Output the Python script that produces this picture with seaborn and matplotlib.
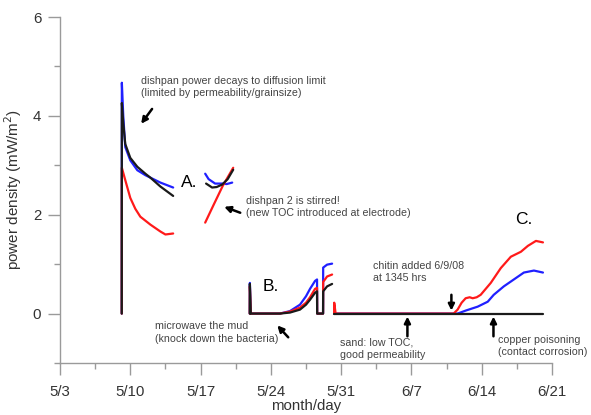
import numpy as np
import pandas as pd
import matplotlib
matplotlib.use("Agg")
import matplotlib.pyplot as plt
import seaborn as sns
from matplotlib.ticker import MultipleLocator

# ---- data (x = days since 5/3) ----
tick_days = [0, 7, 14, 21, 28, 35, 42, 49]
tick_labels = ["5/3", "5/10", "5/17", "5/24", "5/31", "6/7", "6/14", "6/21"]

# segment A1 (dishpan 1)
a1_blue_x = [6.15, 6.16, 6.3, 6.5, 7.0, 7.7, 8.5, 9.0, 10.0, 11.27]
a1_blue_y = [0, 4.67, 4.0, 3.37, 3.1, 2.9, 2.8, 2.75, 2.65, 2.55]
a1_black_x = [6.15, 6.16, 6.3, 6.5, 7.0, 7.7, 8.5, 9.0, 10.0, 11.27]
a1_black_y = [0, 4.26, 3.85, 3.43, 3.15, 2.97, 2.83, 2.75, 2.57, 2.38]
a1_red_x = [6.15, 6.16, 6.5, 7.0, 7.5, 8.0, 9.0, 10.0, 10.5, 11.27]
a1_red_y = [0, 2.95, 2.7, 2.34, 2.12, 1.96, 1.8, 1.66, 1.6, 1.62]

# segment A2 (dishpan 2 stirred)
a2_blue_x = [14.46, 14.8, 15.45, 16.15, 16.6, 17.15]
a2_blue_y = [2.83, 2.72, 2.63, 2.63, 2.62, 2.65]
a2_black_x = [14.55, 15.15, 15.6, 16.15, 16.7, 17.25]
a2_black_y = [2.63, 2.55, 2.56, 2.61, 2.72, 2.91]
a2_red_x = [14.46, 15.3, 16.2, 17.25]
a2_red_y = [1.84, 2.2, 2.58, 2.95]

# segment B (microwaved mud)
b_x = [18.9, 18.91, 19.0, 21.9, 22.9, 23.9, 24.5, 24.9, 25.4, 25.6, 25.61, 26.2, 26.21, 26.6, 27.1]
b_blue_y = [0, 0.62, 0, 0, 0.05, 0.18, 0.35, 0.5, 0.66, 0.69, 0, 0, 0.93, 0.99, 1.01]
b_red_y = [0, 0.55, 0, 0, 0.04, 0.12, 0.22, 0.33, 0.5, 0.52, 0, 0, 0.64, 0.75, 0.79]
b_black_y = [0, 0.6, 0, 0, 0.02, 0.08, 0.18, 0.28, 0.42, 0.45, 0, 0, 0.45, 0.55, 0.6]

# segment C (sand + chitin)
c_red_x = [27.3, 27.31, 27.45, 39.2, 39.6, 40.0, 40.4, 40.8, 41.1, 41.5, 41.9, 42.9, 43.9, 44.9, 45.9, 46.6, 47.4, 48.1]
c_red_y = [0, 0.22, 0, 0, 0.08, 0.22, 0.31, 0.33, 0.31, 0.33, 0.38, 0.62, 0.92, 1.15, 1.25, 1.37, 1.47, 1.44]
c_blue_x = [27.3, 39.6, 40.4, 41.6, 42.6, 43.2, 44.2, 45.2, 46.2, 47.2, 48.1]
c_blue_y = [0, 0, 0.06, 0.14, 0.24, 0.38, 0.55, 0.69, 0.83, 0.87, 0.83]
c_black_x = [27.3, 48.1]
c_black_y = [0, 0]

rows = []
def add(series, seg, xs, ys):
    for x, y in zip(xs, ys):
        rows.append({"day": x, "pd": y, "series": series, "seg": seg})

add("blue", "A1", a1_blue_x, a1_blue_y)
add("red", "A1", a1_red_x, a1_red_y)
add("black", "A1", a1_black_x, a1_black_y)
add("blue", "A2", a2_blue_x, a2_blue_y)
add("red", "A2", a2_red_x, a2_red_y)
add("black", "A2", a2_black_x, a2_black_y)
add("blue", "B", b_x, b_blue_y)
add("red", "B", b_x, b_red_y)
add("black", "B", b_x, b_black_y)
add("blue", "C", c_blue_x, c_blue_y)
add("red", "C", c_red_x, c_red_y)
add("black", "C", c_black_x, c_black_y)
df = pd.DataFrame(rows)

sns.set_theme(style="ticks")
plt.rcParams["font.family"] = ["Liberation Sans", "DejaVu Sans"]

fig = plt.figure(figsize=(5.91, 4.15), dpi=100)
ax = fig.add_axes([60 / 591, 1 - 363 / 415, (552 - 60) / 591, (363 - 17) / 415])

palette = {"blue": "#2020ff", "red": "#ff1a1a", "black": "#1a1a1a"}
sns.lineplot(data=df, x="day", y="pd", hue="series", units="seg", estimator=None,
             sort=False, palette=palette, hue_order=["blue", "red", "black"],
             linewidth=1.6, legend=False, ax=ax)

ax.set_xlim(0, 49)
ax.set_ylim(-1, 6)
ax.set_xticks(tick_days)
ax.set_xticklabels(tick_labels)
ax.xaxis.set_minor_locator(MultipleLocator(3.5))
ax.set_yticks([0, 2, 4, 6])
ax.yaxis.set_minor_locator(MultipleLocator(1))
for s in ["top", "right"]:
    ax.spines[s].set_visible(False)
for s in ["left", "bottom"]:
    ax.spines[s].set_color("#9a9a9a")
    ax.spines[s].set_linewidth(1.0)
ax.spines["left"].set_bounds(-1, 6)
ax.tick_params(axis="both", which="major", length=8.5, width=1, color="#9a9a9a",
               labelsize=10.8, labelcolor="#333333")
ax.tick_params(axis="both", which="minor", length=4, width=1, color="#9a9a9a")
ax.tick_params(axis="x", which="major", pad=7)
ax.tick_params(axis="y", which="major", pad=5)
ax.set_xlabel("month/day", fontsize=10.8, color="#333333", labelpad=0)
ax.set_ylabel("power density (mW/m$^2$)", fontsize=11, color="#333333", labelpad=6)

tcol = "#444444"
fs = 7.7
ax.text(8.08, 4.58, "dishpan power decays to diffusion limit\n(limited by permeability/grainsize)",
        fontsize=fs, color=tcol, ha="left", va="center", linespacing=1.3)
ax.text(18.54, 2.16, "dishpan 2 is stirred!\n(new TOC introduced at electrode)",
        fontsize=fs, color=tcol, ha="left", va="center", linespacing=1.3)
ax.text(9.47, -0.38, "microwave the mud\n(knock down the bacteria)",
        fontsize=fs, color=tcol, ha="left", va="center", linespacing=1.3)
ax.text(27.9, -0.72, "sand: low TOC,\ngood permeability",
        fontsize=fs, color=tcol, ha="left", va="center", linespacing=1.3)
ax.text(31.2, 0.84, "chitin added 6/9/08\nat 1345 hrs",
        fontsize=fs, color=tcol, ha="left", va="center", linespacing=1.3)
ax.text(43.67, -0.66, "copper poisoning\n(contact corrosion)",
        fontsize=fs, color=tcol, ha="left", va="center", linespacing=1.3)

big = 12.5
ax.text(12.06, 2.65, "A.", fontsize=big, color="black", ha="left", va="center")
ax.text(20.14, 0.55, "B.", fontsize=big, color="black", ha="left", va="center")
ax.text(45.36, 1.9, "C.", fontsize=big, color="black", ha="left", va="center")

arrows = [((9.17, 4.14), (8.08, 3.84)),
          ((17.95, 2.04), (16.35, 2.16)),
          ((22.73, -0.48), (21.64, -0.24)),
          ((34.6, -0.46), (34.6, -0.06)),
          ((38.98, 0.38), (38.98, 0.06)),
          ((43.17, -0.46), (43.17, -0.06))]
for tail, head in arrows:
    ax.annotate("", xy=head, xytext=tail,
                arrowprops=dict(arrowstyle="-|>", color="black", lw=1.8,
                                mutation_scale=9, shrinkA=0, shrinkB=0))

fig.savefig("out.png", dpi=100)
